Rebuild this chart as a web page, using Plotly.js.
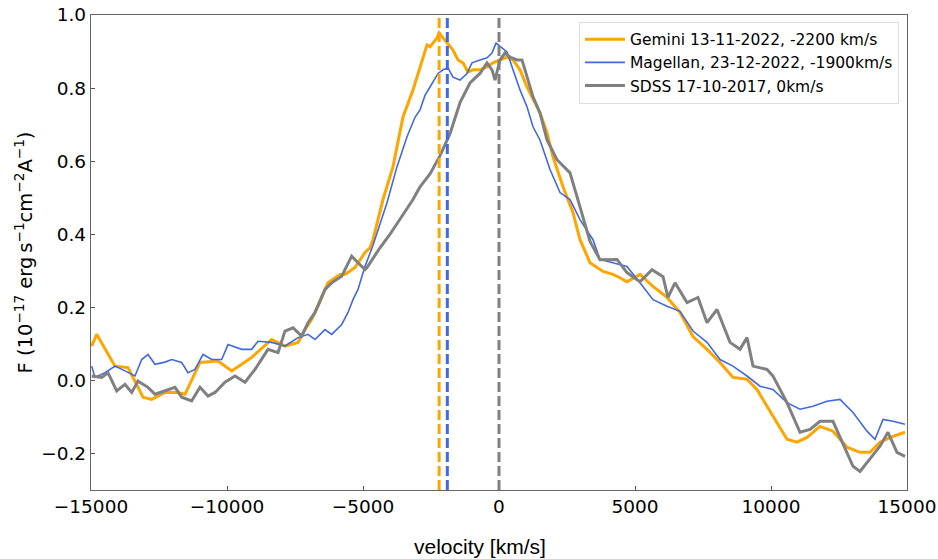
<!DOCTYPE html>
<html>
<head>
<meta charset="utf-8">
<script src="https://cdn.plot.ly/plotly-3.0.1.min.js"></script>
<style>html,body{margin:0;padding:0;background:#fff;}#chart{width:938px;height:559px;}</style>
</head>
<body>
<div id="chart"></div>
<script>
// Gemini 13-11-2022
const geminiV = [-14975,-14790,-14118,-13640,-13088,-12768,-12279,-11801,-11544,-11298,-10993,-10331,-10074,-9827,-9460,-9092,-8357,-7868,-7390,-7132,-6886,-6654,-6287,-5846,-5662,-5294,-4926,-4743,-4632,-4265,-3897,-3529,-3162,-2904,-2721,-2647,-2537,-2426,-2279,-2206,-2059,-1912,-1691,-1507,-1324,-1140,-956,-699,-441,-221,37,294,515,772,1029,1250,1507,1765,1985,2353,2721,2978,3346,3824,4191,4449,4706,5184,5662,6176,6654,7132,7647,8125,8603,9118,9485,9853,10221,10588,10956,11324,11801,12279,12794,13272,13640,14007,14485,14926];
const geminiF = [0.094,0.126,0.039,0.035,-0.046,-0.052,-0.033,-0.033,-0.038,0.003,0.049,0.053,0.039,0.026,0.044,0.063,0.112,0.094,0.104,0.139,0.167,0.203,0.267,0.29,0.29,0.309,0.35,0.363,0.385,0.495,0.585,0.721,0.795,0.858,0.904,0.918,0.913,0.923,0.937,0.951,0.937,0.923,0.904,0.877,0.869,0.844,0.85,0.85,0.858,0.869,0.877,0.885,0.877,0.85,0.803,0.768,0.732,0.678,0.612,0.53,0.459,0.385,0.322,0.298,0.29,0.281,0.27,0.29,0.257,0.227,0.186,0.12,0.085,0.049,0.008,0.003,-0.025,-0.071,-0.115,-0.161,-0.169,-0.156,-0.126,-0.139,-0.183,-0.197,-0.197,-0.169,-0.153,-0.142];

// Magellan 23-12-2022
const magellanV = [-14975,-14853,-14485,-14118,-13750,-13382,-13136,-12904,-12647,-12279,-12033,-11666,-11434,-11176,-10882,-10563,-10195,-9963,-9460,-9092,-8860,-8357,-7868,-7390,-7022,-6765,-6397,-6151,-5783,-5551,-5368,-5184,-4926,-4632,-4118,-3750,-3382,-3088,-2904,-2721,-2537,-2243,-2059,-1875,-1691,-1434,-1176,-993,-699,-441,-257,-110,110,294,515,772,1029,1250,1507,1875,2243,2610,2978,3456,3713,4191,4706,5184,5662,6176,6654,7132,7647,8125,8603,9118,9596,10074,10588,11066,11544,12059,12537,13015,13529,13824,14118,14485,14926];
const magellanF = [0.039,0.008,0.021,0.039,0.026,0.012,0.057,0.071,0.044,0.05,0.057,0.049,0.021,0.030,0.071,0.057,0.057,0.098,0.085,0.085,0.107,0.104,0.094,0.117,0.126,0.112,0.139,0.126,0.153,0.186,0.221,0.249,0.312,0.37,0.486,0.585,0.667,0.72,0.74,0.78,0.803,0.84,0.85,0.855,0.83,0.822,0.84,0.869,0.877,0.883,0.896,0.923,0.91,0.899,0.85,0.795,0.749,0.694,0.658,0.577,0.514,0.495,0.44,0.385,0.331,0.322,0.312,0.267,0.221,0.203,0.189,0.135,0.104,0.057,0.039,0.012,-0.016,-0.025,-0.061,-0.079,-0.071,-0.057,-0.052,-0.088,-0.139,-0.161,-0.107,-0.112,-0.12];

// SDSS 17-10-2017
const sdssV = [-14975,-14607,-14375,-14055,-13750,-13504,-13272,-12904,-12647,-12279,-11912,-11666,-11298,-10993,-10699,-10441,-10074,-9706,-9338,-8971,-8493,-8125,-7868,-7574,-7254,-7022,-6765,-6397,-6151,-5783,-5416,-5184,-4926,-4853,-4375,-4007,-3640,-3162,-2904,-2537,-2169,-1801,-1434,-1066,-699,-441,-257,-147,37,221,404,662,846,1029,1250,1507,1765,2132,2610,2978,3346,3713,4338,4706,5184,5625,6029,6213,6471,6912,7316,7647,8015,8493,8860,9118,9338,9853,10074,10588,11066,11434,11801,12279,12647,13015,13272,13640,14007,14301,14632,14926];
const sdssF = [0.012,0.008,0.021,-0.029,-0.011,-0.033,-0.002,-0.019,-0.038,-0.029,-0.019,-0.046,-0.056,-0.019,-0.043,-0.033,-0.005,0.012,-0.005,0.030,0.085,0.076,0.135,0.144,0.121,0.158,0.186,0.249,0.267,0.285,0.34,0.322,0.303,0.309,0.363,0.40,0.44,0.495,0.53,0.565,0.615,0.675,0.76,0.814,0.84,0.869,0.85,0.822,0.877,0.896,0.885,0.877,0.877,0.83,0.776,0.732,0.658,0.604,0.568,0.475,0.38,0.33,0.331,0.295,0.27,0.303,0.284,0.227,0.267,0.213,0.227,0.158,0.194,0.104,0.085,0.117,0.039,0.03,0.012,-0.061,-0.142,-0.134,-0.112,-0.112,-0.175,-0.235,-0.249,-0.216,-0.18,-0.142,-0.197,-0.208];

const seriesNames = ["Gemini 13-11-2022, -2200 km/s", "Magellan, 23-12-2022, -1900km/s", "SDSS 17-10-2017, 0km/s"];
const seriesColors = ["#FFA500", "#4169E1", "#808080"];
const seriesWidths = [3, 1.6, 3];
const shiftV = [-2200, -1900, 0];
const xTickVals = [-15000,-10000,-5000,0,5000,10000,15000];
const xTickText = ['\u221215000','\u221210000','\u22125000','0','5000','10000','15000'];
const yTickVals = [-0.2, 0, 0.2, 0.4, 0.6, 0.8, 1.0];
const yTickText = ['\u22120.2','0.0','0.2','0.4','0.6','0.8','1.0'];

const xs = [geminiV, magellanV, sdssV];
const ys = [geminiF, magellanF, sdssF];

const traces = xs.map((x, i) => ({
  x: x, y: ys[i], type: 'scatter', mode: 'lines', name: seriesNames[i],
  line: {color: seriesColors[i], width: seriesWidths[i]}
}));

const shapes = shiftV.map((v, i) => ({
  type: 'line', xref: 'x', yref: 'paper', x0: v, x1: v, y0: 0, y1: 1,
  line: {color: seriesColors[i], width: 3, dash: '10px,4px'}
}));

const tickFont = {family: 'DejaVu Sans, sans-serif', size: 18.5, color: '#000'};

const layout = {
  width: 938, height: 559,
  margin: {l: 91, r: 31, t: 15, b: 69},
  paper_bgcolor: '#fff', plot_bgcolor: '#fff',
  showlegend: true,
  legend: {
    x: 0.598, y: 0.986, xanchor: 'left', yanchor: 'top',
    bgcolor: 'rgba(255,255,255,0.8)', bordercolor: '#dddddd', borderwidth: 1,
    font: {family: 'DejaVu Sans, sans-serif', size: 15.5, color: '#000'},
    traceorder: 'normal', itemwidth: 40
  },
  xaxis: {
    range: [-15000, 15000], tickvals: xTickVals, ticktext: xTickText,
    ticks: 'inside', ticklen: 4, tickwidth: 1, tickcolor: '#555',
    showline: true, linecolor: '#666', linewidth: 1.2, mirror: true,
    showgrid: false, zeroline: false, tickfont: tickFont,
    title: {text: ''}
  },
  yaxis: {
    range: [-0.3, 1.0], tickvals: yTickVals, ticktext: yTickText,
    ticks: 'inside', ticklen: 4, tickwidth: 1, tickcolor: '#555',
    showline: true, linecolor: '#666', linewidth: 1.2, mirror: true,
    showgrid: false, zeroline: false, tickfont: tickFont,
    title: {text: 'F (10<sup>\u221217</sup> erg\u2009s<sup>\u22121</sup>cm<sup>\u22122</sup>A<sup>\u22121</sup>)', font: {family: 'DejaVu Sans, sans-serif', size: 19.5, color: '#000'}, standoff: 3}
  },
  annotations: [{
    text: 'velocity [km/s]', xref: 'paper', yref: 'paper', x: 0.477, y: -0.119,
    xanchor: 'center', yanchor: 'middle', showarrow: false,
    font: {family: 'Liberation Sans, Arial, sans-serif', size: 21, color: '#000'}
  }],
  shapes: shapes
};

Plotly.newPlot('chart', traces, layout, {displayModeBar: false, staticPlot: true});
</script>
</body>
</html>
